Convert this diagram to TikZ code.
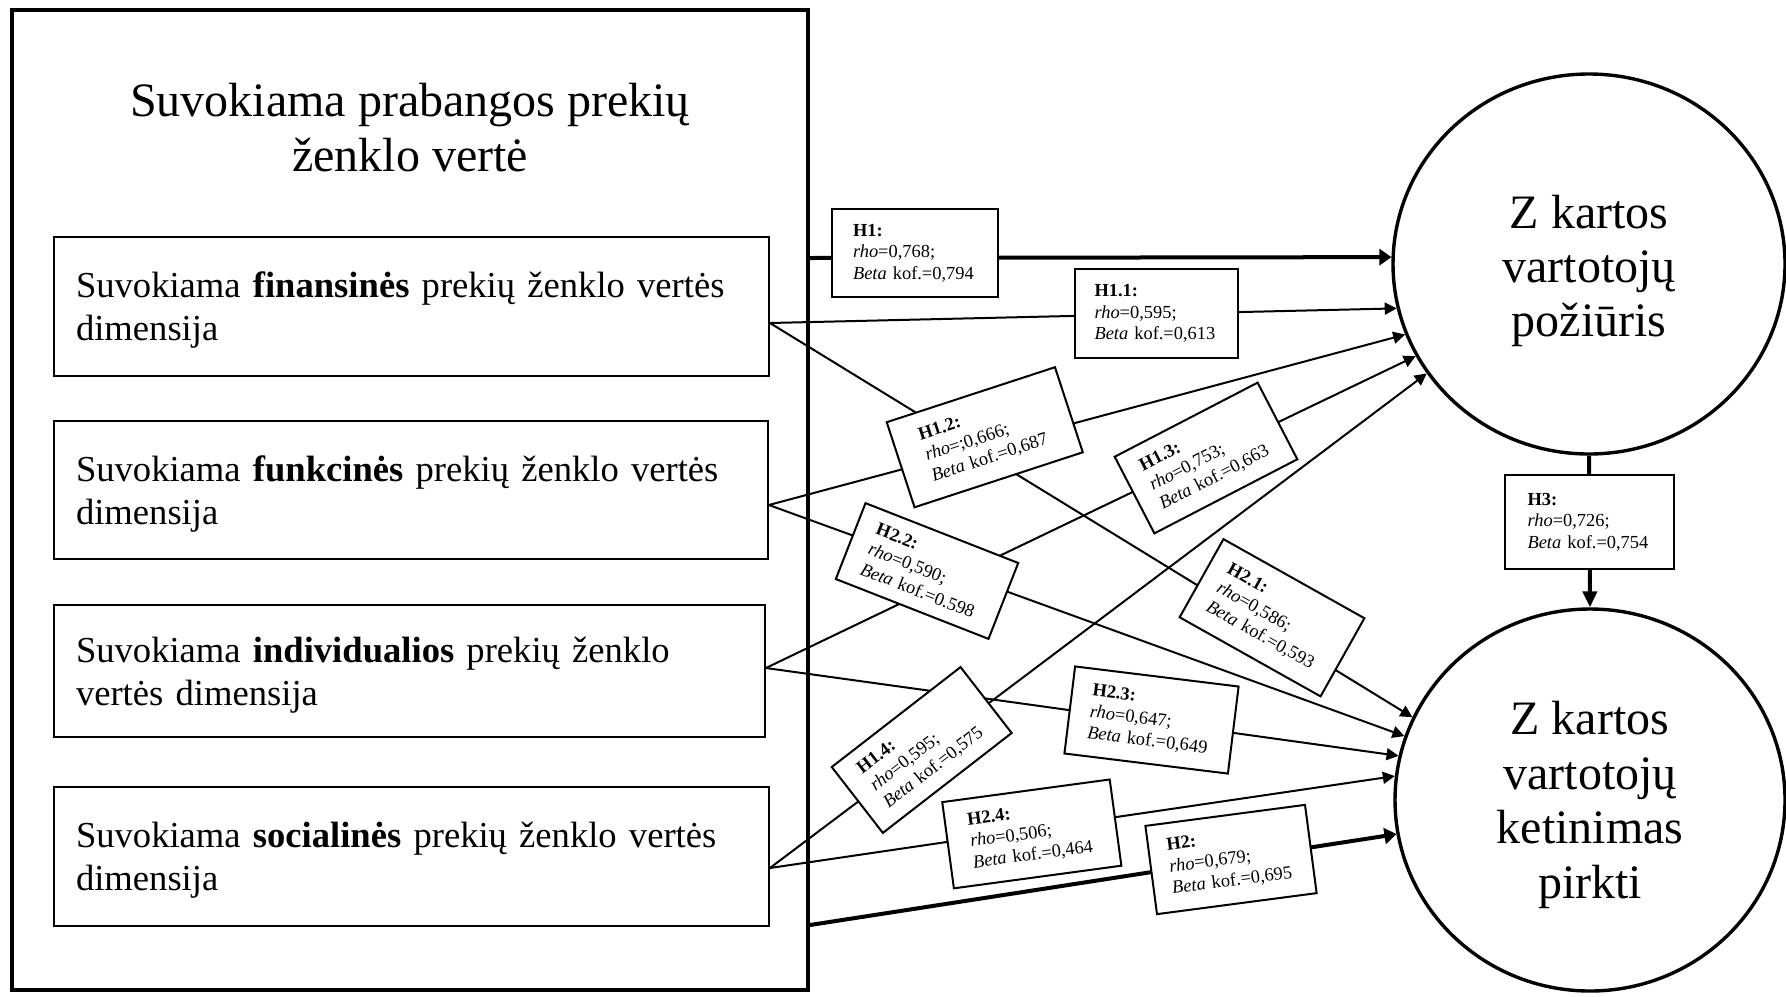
\documentclass[tikz,border=0pt]{standalone}
\usepackage{fontspec}
\setmainfont{Liberation Serif}
\usetikzlibrary{shapes.geometric,arrows.meta}

\begin{document}
\begin{tikzpicture}[x=0.5pt,y=-0.5pt,
  outerbox/.style={draw,line width=2pt,rectangle,inner sep=0pt},
  dimbox/.style={draw,line width=0.9pt,rectangle,inner xsep=11pt,inner ysep=0pt,
    align=left,font=\fontsize{18.3}{21.5}\selectfont},
  construct/.style={draw,ellipse,line width=1.7pt,inner sep=0pt},
  constructtext/.style={inner sep=0pt,align=center,font=\fontsize{24}{27.2}\selectfont},
  lab/.style={draw,fill=white,line width=1pt,rectangle,inner sep=0pt,text width=62pt,
    align=left,font=\fontsize{9.2}{10.8}\selectfont},
  conn/.style={line width=1pt,-{Triangle[length=6pt,width=6pt]}},
  thickconn/.style={line width=2pt,-{Triangle[length=6pt,width=8pt]}}
]
\useasboundingbox[fill=white] (0,0) rectangle (1786,996);

% left block: brand value and its four dimensions
\node[outerbox,minimum width=398.25pt,minimum height=490pt] (outer) at (409.75,500) {};
\node[font=\fontsize{24}{27.5}\selectfont,align=center,inner sep=0pt] (title) at (410,128)
  {Suvokiama prabangos prekių\\ženklo vertė};

% the zero-width rule lifts the first line slightly, keeping the text low in the box
\newcommand{\firstline}{\rule{0pt}{16.4pt}}
\node[dimbox,text width=335.5pt,minimum height=69.5pt] (b1) at (411.5,306.5)
  {\firstline Suvokiama \textbf{finansinės} prekių ženklo vertės\\dimensija};
\node[dimbox,text width=335pt,minimum height=69pt] (b2) at (411,490)
  {\firstline Suvokiama \textbf{funkcinės} prekių ženklo vertės\\dimensija};
\node[dimbox,text width=333.5pt,minimum height=66pt] (b3) at (409.5,671)
  {\firstline Suvokiama \textbf{individualios} prekių ženklo\\vertės dimensija};
\node[dimbox,text width=335.5pt,minimum height=69.5pt] (b4) at (411.5,856.5)
  {\firstline Suvokiama \textbf{socialinės} prekių ženklo vertės\\dimensija};

% outcome constructs
\node[construct,minimum width=196pt,minimum height=190pt] (E1) at (1589,264) {};
\node[constructtext] (E1t) at (1589,271) {Z kartos\\vartotojų\\požiūris};
\node[construct,minimum width=195pt,minimum height=191pt] (E2) at (1590,800) {};
\node[constructtext] (E2t) at (1590,805) {Z kartos\\vartotojų\\ketinimas\\pirkti};

% start points of the connectors
\path (b1.east) ++(0,16.5) coordinate (s1);
\path (b2.east) ++(0,15) coordinate (s2);
\path (b3.east) ++(0,-3) coordinate (s3);
\path (b4.east) ++(0,11.5) coordinate (s4);
\path (outer.east) ++(0,-242) coordinate (o1);
\path (outer.east) ++(0,425) coordinate (o2);

% connectors
\draw[thickconn] (o1) -- (E1.178.2);
\draw[conn] (s1) -- (E1.193.8);
\draw[conn] (s2) -- (E1.201.1);
\draw[conn] (s3) -- (E1.208.2);
\draw[conn] (s4) -- (E1.214.7);
\draw[conn] (s1) -- (E2.155.3);
\draw[conn] (s2) -- (E2.161.6);
\draw[conn] (s3) -- (E2.167.1);
\draw[conn] (s4) -- (E2.173.4);
\draw[thickconn] (o2) -- (E2.190.9);
\draw[line width=2pt,-{Triangle[length=8pt,width=7pt]}] (E1.south) -- (E2.north);

% coefficient labels
\node[lab,minimum width=83pt,minimum height=44pt] (h1) at (915,253)
  {\textbf{H1:}\\\textit{rho}=0,768;\\\textit{Beta} kof.=0,794};
\node[lab,minimum width=81.5pt,minimum height=44.5pt] (h11) at (1156.5,313.5)
  {\textbf{H1.1:}\\\textit{rho}=0,595;\\\textit{Beta} kof.=0,613};
\node[lab,rotate=18.1,minimum width=88.5pt,minimum height=44.75pt] (h12) at (984.75,437.25)
  {\textbf{H1.2:}\\\textit{rho}=;0,666;\\\textit{Beta} kof.=0,687};
\node[lab,rotate=27.4,minimum width=80.5pt,minimum height=43.15pt] (h13) at (1206,458)
  {\textbf{H1.3:}\\\textit{rho}=0,753;\\\textit{Beta} kof.=0,663};
\node[lab,rotate=37.8,minimum width=81.5pt,minimum height=41.7pt] (h14) at (921.7,750)
  {\textbf{H1.4:}\\\textit{rho}=0,595;\\\textit{Beta} kof.=0,575};
\node[lab,rotate=-29.3,minimum width=80.8pt,minimum height=44.8pt] (h21) at (1272,617.75)
  {\textbf{H2.1:}\\\textit{rho}=0,586;\\\textit{Beta} kof.=0,593};
\node[lab,rotate=-21.4,minimum width=82pt,minimum height=40.75pt] (h22) at (927,571)
  {\textbf{H2.2:}\\\textit{rho}=0,590;\\\textit{Beta} kof.=0.598};
\node[lab,rotate=-7,minimum width=82.35pt,minimum height=43.85pt] (h23) at (1151.5,720)
  {\textbf{H2.3:}\\\textit{rho}=0,647;\\\textit{Beta} kof.=0,649};
\node[lab,rotate=7.7,minimum width=84.5pt,minimum height=43.5pt] (h24) at (1031.8,833.9)
  {\textbf{H2.4:}\\\textit{rho}=0,506;\\\textit{Beta} kof.=0,464};
\node[lab,rotate=7.5,minimum width=80.5pt,minimum height=44.5pt] (h2) at (1231,859.5)
  {\textbf{H2:}\\\textit{rho}=0,679;\\\textit{Beta} kof.=0,695};
\node[lab,minimum width=84.5pt,minimum height=47pt] (h3) at (1589.5,522)
  {\textbf{H3:}\\\textit{rho}=0,726;\\\textit{Beta} kof.=0,754};
\end{tikzpicture}
\end{document}
